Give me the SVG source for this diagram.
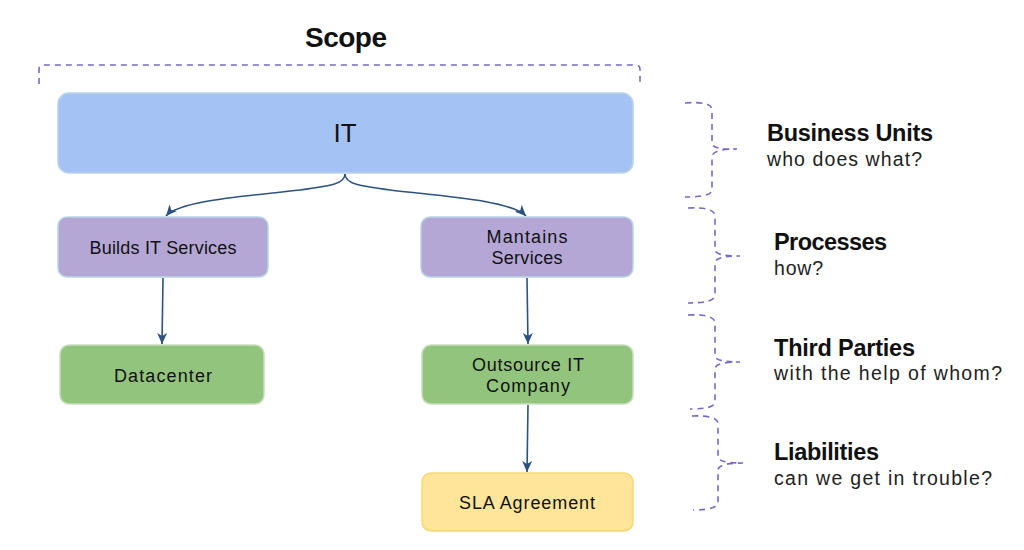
<svg xmlns="http://www.w3.org/2000/svg" width="1024" height="550" viewBox="0 0 1024 550">
<defs>
<style>
.t{font-family:"Liberation Sans",Arial,sans-serif;fill:#111;text-anchor:middle}
.n{font-size:18px}
.h{font-family:"Liberation Sans",Arial,sans-serif;font-size:23.5px;font-weight:bold;fill:#111}
.s{font-family:"Liberation Sans",Arial,sans-serif;font-size:19.5px;fill:#222}
.br{fill:none;stroke:#7c66c8;stroke-width:1.6;stroke-dasharray:6,5}
.c{fill:none;stroke:#2c5283;stroke-width:1.6}
.blue{fill:#a4c2f4;stroke:#b9d3e6;stroke-width:1.5}
.pur{fill:#b4a7d6;stroke:#b9d3e6;stroke-width:1.5}
.grn{fill:#93c47d;stroke:#c6e0bc;stroke-width:1.5}
.yel{fill:#ffe599;stroke:#f7d774;stroke-width:1.5}
</style>
<marker id="ah" viewBox="0 0 12 12" refX="11" refY="6" markerWidth="12" markerHeight="12" markerUnits="userSpaceOnUse" orient="auto">
<path d="M0,1 L11,6 L0,11 L3,6 Z" fill="#2c5283"/>
</marker>
</defs>
<text class="t" x="346" y="47" textLength="82" lengthAdjust="spacing" style="font-size:28px;font-weight:bold">Scope</text>
<path class="br" d="M39,84 L39,69 Q39,65 44,65 L635,65 Q640,65 640,69 L640,84"/>
<g id="connectors">
<path class="c" marker-end="url(#ah)" d="M345,174 C345,184 330,186 300,190 C250,196 180,200 166,216"/>
<path class="c" marker-end="url(#ah)" d="M345,174 C345,184 360,186 390,190 C440,196 510,200 526,216"/>
<path class="c" marker-end="url(#ah)" d="M163,278 L162,344"/>
<path class="c" marker-end="url(#ah)" d="M527,278 L528,344"/>
<path class="c" marker-end="url(#ah)" d="M528,405 L527,472"/>
</g>
<g id="it"><rect class="blue" x="58" y="93" width="575" height="80" rx="11"/><text class="t" x="345" y="142" style="font-size:26px">IT</text></g>
<g id="builds"><rect class="pur" x="58" y="217" width="210" height="60" rx="9"/><text class="t n" x="163" y="254" textLength="147" lengthAdjust="spacing">Builds IT Services</text></g>
<g id="mantains"><rect class="pur" x="421" y="217" width="212" height="60" rx="9"/><text class="t n" x="527" y="243" textLength="81" lengthAdjust="spacing">Mantains</text><text class="t n" x="527" y="264" textLength="71" lengthAdjust="spacing">Services</text></g>
<g id="datacenter"><rect class="grn" x="60" y="345" width="204" height="59" rx="9"/><text class="t n" x="163" y="382" textLength="98" lengthAdjust="spacing">Datacenter</text></g>
<g id="outsource"><rect class="grn" x="422" y="345" width="211" height="59" rx="9"/><text class="t n" x="528" y="371" textLength="112" lengthAdjust="spacing">Outsource IT</text><text class="t n" x="528" y="392" textLength="84" lengthAdjust="spacing">Company</text></g>
<g id="sla"><rect class="yel" x="422" y="473" width="211" height="58" rx="9"/><text class="t n" x="527" y="509" textLength="136" lengthAdjust="spacing">SLA Agreement</text></g>
<g id="business-units">
<path class="br" d="M685,103 Q712,101 712,110 L712,143 Q712,150 737,149 Q712,149 712,157 L712,190 Q712,197 685,197"/>
<text class="h" x="767" y="141" textLength="166" lengthAdjust="spacing">Business Units</text><text class="s" x="767" y="166" textLength="155" lengthAdjust="spacing">who does what?</text>
</g>
<g id="processes">
<path class="br" d="M688,208 Q715,207 715,216 L715,250 Q715,256 740,256 Q715,256 715,263 L715,295 Q715,303 688,303"/>
<text class="h" x="774" y="250" textLength="113" lengthAdjust="spacing">Processes</text><text class="s" x="774" y="275" textLength="49" lengthAdjust="spacing">how?</text>
</g>
<g id="third-parties">
<path class="br" d="M688,315 Q715,314 715,323 L715,356 Q715,362 740,362 Q715,362 715,369 L715,402 Q715,409 690,409"/>
<text class="h" x="774" y="356" textLength="141" lengthAdjust="spacing">Third Parties</text><text class="s" x="774" y="380" textLength="228" lengthAdjust="spacing">with the help of whom?</text>
</g>
<g id="liabilities">
<path class="br" d="M692,416 Q718,415 718,424 L718,457 Q718,463 743,463 Q718,463 718,470 L718,502 Q718,510 693,510"/>
<text class="h" x="774" y="460" textLength="105" lengthAdjust="spacing">Liabilities</text><text class="s" x="774" y="485" textLength="218" lengthAdjust="spacing">can we get in trouble?</text>
</g>
</svg>
